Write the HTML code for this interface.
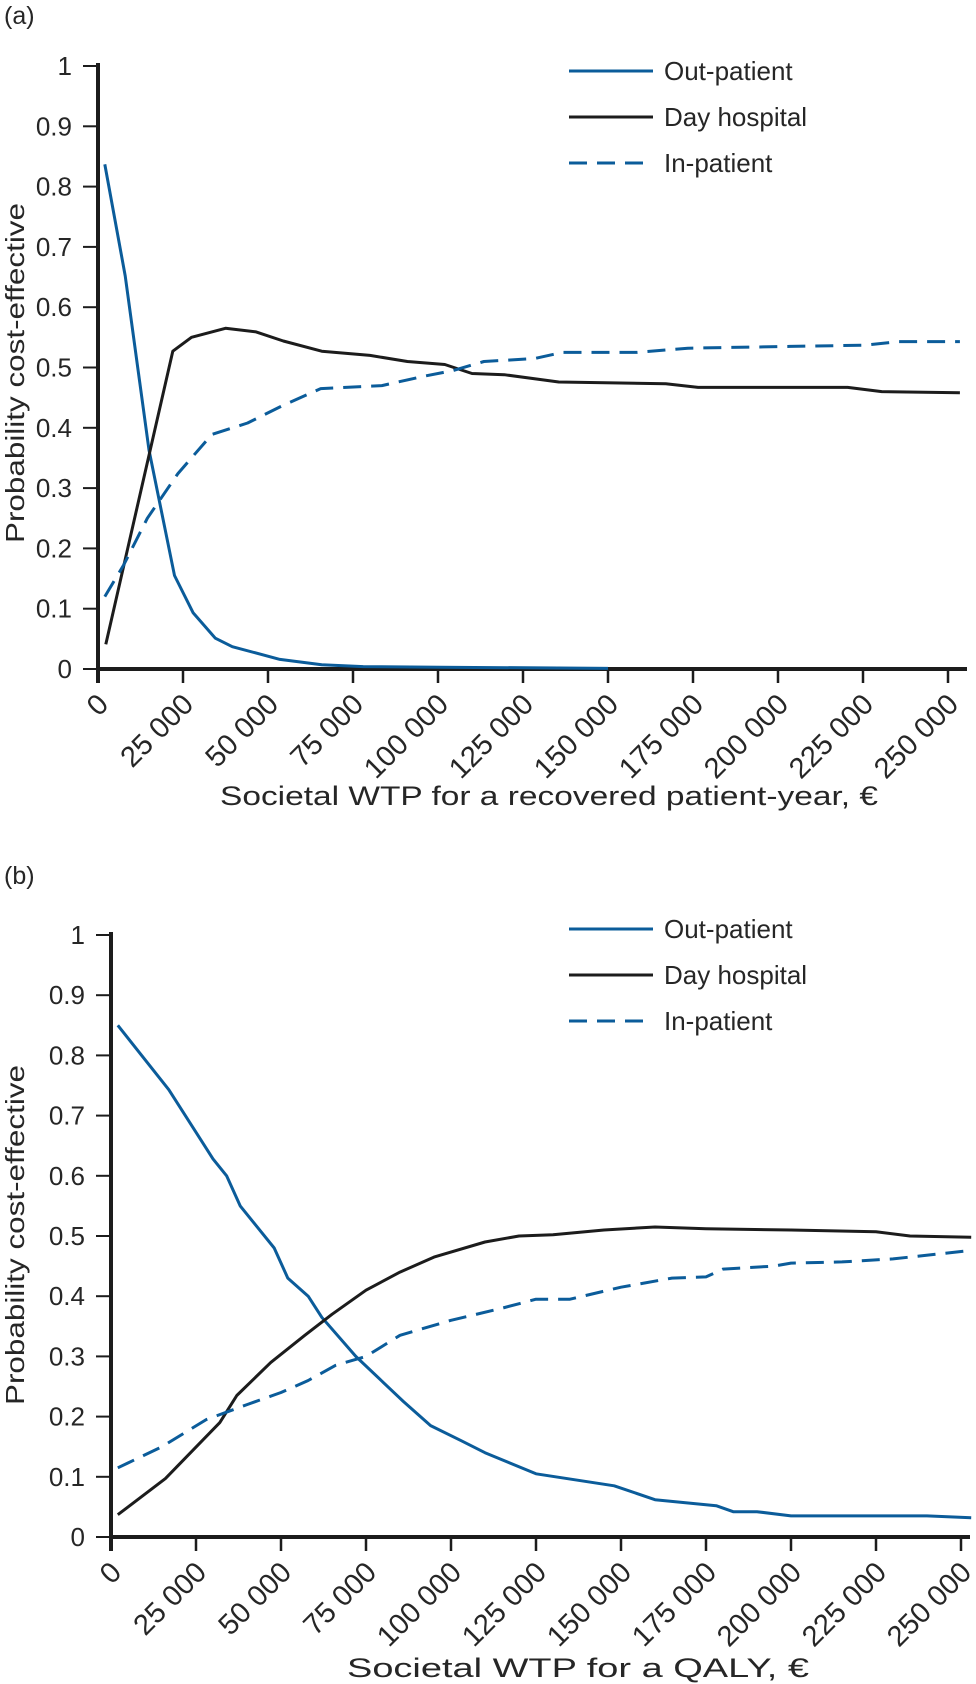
<!DOCTYPE html>
<html><head><meta charset="utf-8"><style>
html,body{margin:0;padding:0;background:#fff;}
svg{display:block;font-family:"Liberation Sans",sans-serif;}
</style></head><body>
<svg id="fig" width="976" height="1684" viewBox="0 0 976 1684"></svg>
<script>
const xTicks=[0,25000,50000,75000,100000,125000,150000,175000,200000,225000,250000];
const xTickLabels=["0","25 000","50 000","75 000","100 000","125 000","150 000","175 000","200 000","225 000","250 000"];
const yTicks=[0,0.1,0.2,0.3,0.4,0.5,0.6,0.7,0.8,0.9,1];
const yTickLabels=["0","0.1","0.2","0.3","0.4","0.5","0.6","0.7","0.8","0.9","1"];
const seriesNames=["Out-patient","Day hospital","In-patient"];
// Panel (a)
const aOutX=[2000,8000,15000,22500,28000,34500,39500,53500,65800,78000,100500,150000];
const aOutY=[0.837,0.652,0.363,0.155,0.093,0.051,0.037,0.016,0.007,0.004,0.003,0.001];
const aDayX=[2300,22000,27500,37500,46500,54500,65800,80000,91000,102000,110000,119500,135500,167000,176500,220500,230500,253500];
const aDayY=[0.041,0.527,0.55,0.565,0.559,0.544,0.527,0.52,0.51,0.505,0.49,0.488,0.476,0.473,0.467,0.467,0.46,0.458];
const aInX=[2000,7500,14500,23500,33500,44000,54000,65500,83500,95500,104500,113500,128500,136500,158500,173500,203500,225500,235500,253500];
const aInY=[0.12,0.172,0.25,0.324,0.389,0.408,0.436,0.465,0.47,0.485,0.495,0.51,0.515,0.525,0.525,0.532,0.535,0.537,0.543,0.543];
// Panel (b)
const bOutX=[2000,17000,30000,34000,38000,48000,52000,58000,62000,72000,86000,94000,103000,110000,125000,148000,160000,178000,183000,190000,200000,240000,253000];
const bOutY=[0.85,0.743,0.628,0.6,0.55,0.48,0.43,0.4,0.365,0.3,0.225,0.185,0.16,0.14,0.105,0.085,0.062,0.052,0.042,0.042,0.035,0.035,0.032];
const bDayX=[2000,16000,32000,37000,47000,57000,65000,75000,85000,95000,110000,120000,130000,145000,160000,175000,200000,225000,235000,253000];
const bDayY=[0.037,0.097,0.19,0.235,0.29,0.335,0.37,0.41,0.44,0.465,0.49,0.5,0.502,0.51,0.515,0.512,0.51,0.507,0.5,0.498];
const bInX=[2000,15000,28000,40000,50000,58000,66000,75000,85000,100000,115000,125000,135000,150000,165000,175000,180000,195000,200000,215000,230000,253000];
const bInY=[0.115,0.15,0.195,0.22,0.24,0.26,0.285,0.30,0.335,0.36,0.38,0.395,0.395,0.415,0.43,0.432,0.445,0.45,0.455,0.457,0.462,0.476];

const NS="http://www.w3.org/2000/svg";
const svg=document.getElementById('fig');
const BLUE="#0b5c9a", BLACK="#1c1c1c", TXT="#262626";
function mk(tag,attrs,parent){const e=document.createElementNS(NS,tag);for(const k in attrs)e.setAttribute(k,attrs[k]);(parent||svg).appendChild(e);return e;}

function panel(cfg){
  const g=mk('g',{});
  
  
  const X=v=>cfg.x0+v*85/25000;
  const Y=v=>cfg.y0-(cfg.y0-cfg.y1)*v;
  const lab=mk('text',{x:cfg.labX,y:cfg.labY,'font-size':25,fill:TXT},g);
  lab.textContent=cfg.label;
  
  
  yTicks.forEach((t,i)=>{
    const tk=mk('line',{x1:cfg.x0-15,x2:cfg.x0,y1:Y(t),y2:Y(t),stroke:BLACK,'stroke-width':2},g);
    
    
    const tl=mk('text',{x:cfg.x0-26,y:Y(t)+9,'font-size':26,'text-anchor':'end',fill:TXT},g);
    tl.textContent=yTickLabels[i];
    
    
  });
  xTicks.forEach((t,i)=>{
    const tk=mk('line',{x1:X(t),x2:X(t),y1:cfg.y0,y2:cfg.y0+14,stroke:BLACK,'stroke-width':2.5},g);
    
    
    const lx=X(t)+12, ly=cfg.y0+37;
    const tl=mk('text',{x:lx,y:ly,'font-size':29,'text-anchor':'end',fill:TXT,transform:`rotate(-45 ${lx} ${ly})`},g);
    tl.textContent=xTickLabels[i];
    
    
  });
  const ya=mk('line',{x1:cfg.x0,x2:cfg.x0,y1:cfg.y1-3,y2:cfg.y0+14,stroke:BLACK,'stroke-width':4},g);
  
  
  const xa=mk('line',{x1:cfg.x0-2,x2:cfg.xEnd,y1:cfg.y0,y2:cfg.y0,stroke:BLACK,'stroke-width':4},g);
  
  
  const yt=mk('text',{x:0,y:0,'font-size':26,'text-anchor':'middle',fill:TXT,transform:`translate(24 ${cfg.yTitleC}) rotate(-90)`,textLength:340,lengthAdjust:'spacingAndGlyphs'},g);
  yt.textContent="Probability cost-effective";
  
  
  const xt=mk('text',{x:cfg.xtX,y:cfg.xtY,'font-size':27,fill:TXT,textLength:cfg.xtLen,lengthAdjust:'spacingAndGlyphs'},g);
  xt.textContent=cfg.xTitle;
  
  
  const defs=[[cfg.out[0],cfg.out[1],BLUE,null,'out-patient-line'],[cfg.day[0],cfg.day[1],BLACK,null,'day-hospital-line'],[cfg.inp[0],cfg.inp[1],BLUE,'18 10','in-patient-line']];
  defs.forEach(d=>{
    const pts=d[0].map((x,i)=>X(x).toFixed(1)+','+Y(d[1][i]).toFixed(1)).join(' ');
    const a={points:pts,fill:'none',stroke:d[2],'stroke-width':3,'stroke-linejoin':'round'};
    if(d[3])a['stroke-dasharray']=d[3];
    const pl=mk('polyline',a,g);
    
    
  });
  const styles=[[BLUE,null],[BLACK,null],[BLUE,'18 10']];
  seriesNames.forEach((n,i)=>{
    const ly=cfg.legY+i*46;
    const a={x1:569,x2:653,y1:ly,y2:ly,stroke:styles[i][0],'stroke-width':3};
    if(styles[i][1])a['stroke-dasharray']=styles[i][1];
    const ln=mk('line',a,g);
    
    
    const t=mk('text',{x:664,y:ly+9,'font-size':26,fill:TXT},g);
    t.textContent=n;
    
    
  });
}
panel({id:'panel-a',label:'(a)',labX:4,labY:24,x0:98,y0:669,y1:66,xEnd:967,yTitleC:373,
  xTitle:'Societal WTP for a recovered patient-year, €',xtX:220,xtY:805,xtLen:658,legY:71,
  out:[aOutX,aOutY],day:[aDayX,aDayY],inp:[aInX,aInY]});
panel({id:'panel-b',label:'(b)',labX:4,labY:884,x0:111,y0:1537,y1:935,xEnd:970,yTitleC:1235,
  xTitle:'Societal WTP for a QALY, €',xtX:347,xtY:1677,xtLen:462,legY:929,
  out:[bOutX,bOutY],day:[bDayX,bDayY],inp:[bInX,bInY]});
</script>
</body></html>
